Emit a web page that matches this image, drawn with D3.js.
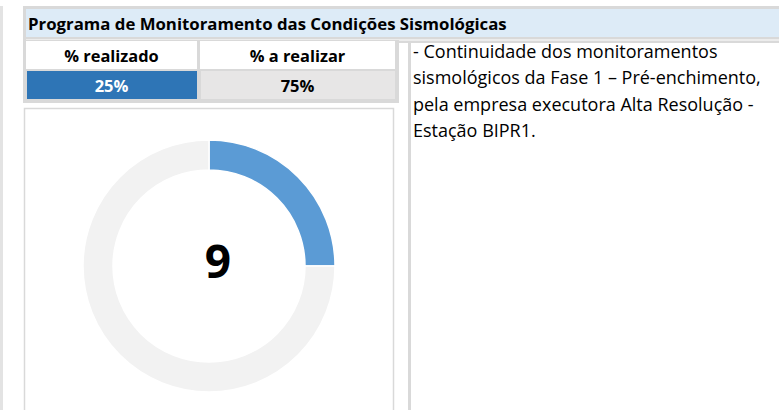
<!DOCTYPE html>
<html>
<head>
<meta charset="utf-8">
<script src="https://cdn.jsdelivr.net/npm/d3@7"></script>
<style>
  body { margin: 0; background: #fff; }
  text { font-family: "Open Sans", Lato, sans-serif; }
</style>
</head>
<body>
<div class="chart"></div>
<script>
// Painel - Programa de Monitoramento das Condições Sismológicas

var title = "Programa de Monitoramento das Condições Sismológicas";
var categories = ["% realizado", "% a realizar"];
var values = [25, 75];
var centerLabel = "9";
var description = [
    "- Continuidade dos monitoramentos",
    "sismológicos da Fase 1 – Pré-enchimento,",
    "pela empresa executora Alta Resolução -",
    "Estação BIPR1."
];

var svgWidth = 779;
var svgHeight = 410;
var gridGray = "#d9d9d9";

var svg = d3.select(".chart")
    .append("svg")
    .attr("width", svgWidth)
    .attr("height", svgHeight);

// left strip
svg.append("rect")
    .attr("x", 0).attr("y", 6)
    .attr("width", 3).attr("height", svgHeight)
    .attr("fill", "#e3e3e3");

// title band
svg.append("rect")
    .attr("x", 23).attr("y", 6)
    .attr("width", svgWidth - 23).attr("height", 37)
    .attr("fill", gridGray);
svg.append("rect")
    .attr("x", 26).attr("y", 9)
    .attr("width", svgWidth - 26).attr("height", 28)
    .attr("fill", "#ddebf7");
svg.append("rect")
    .attr("x", 26).attr("y", 39.5)
    .attr("width", svgWidth - 26).attr("height", 1)
    .attr("fill", "#fff");
svg.append("text")
    .attr("x", 28).attr("y", 30)
    .attr("font-size", "16.8px")
    .attr("font-weight", "bold")
    .attr("fill", "#000")
    .text(title);

// table of percentages
var xBand = d3.scaleOrdinal()
    .domain(categories)
    .range([[26, 197], [200, 395]]);

svg.append("rect")
    .attr("x", 23).attr("y", 40)
    .attr("width", 376).attr("height", 63)
    .attr("fill", gridGray);

var headerCells = svg.selectAll(".head")
    .data(categories)
    .enter()
    .append("g")
    .attr("class", "head");

headerCells.append("rect")
    .attr("x", function(d) { return xBand(d)[0]; })
    .attr("y", 41)
    .attr("width", function(d) { return xBand(d)[1] - xBand(d)[0]; })
    .attr("height", 28)
    .attr("fill", "#fff");

headerCells.append("text")
    .attr("x", function(d) { return (xBand(d)[0] + xBand(d)[1]) / 2; })
    .attr("y", 62)
    .attr("text-anchor", "middle")
    .attr("font-size", "16.4px")
    .attr("font-weight", "bold")
    .text(function(d) { return d; });

var valueCells = svg.selectAll(".val")
    .data(categories)
    .enter()
    .append("g")
    .attr("class", "val");

valueCells.append("rect")
    .attr("x", function(d) { return xBand(d)[0] + 1; })
    .attr("y", 71)
    .attr("width", function(d) { return xBand(d)[1] - xBand(d)[0] - 1; })
    .attr("height", 28)
    .attr("fill", function(d, i) { return i === 0 ? "#2e75b6" : "#e7e6e6"; });

valueCells.append("text")
    .attr("x", function(d) { return (xBand(d)[0] + xBand(d)[1]) / 2; })
    .attr("y", 92)
    .attr("text-anchor", "middle")
    .attr("font-size", "16.5px")
    .attr("font-weight", "bold")
    .attr("fill", function(d, i) { return i === 0 ? "#fff" : "#000"; })
    .text(function(d, i) { return values[i] + "%"; });

// donut box
svg.append("rect")
    .attr("x", 24.5).attr("y", 108.5)
    .attr("width", 369).attr("height", 320)
    .attr("fill", "#fff")
    .attr("stroke", gridGray)
    .attr("stroke-width", 1.5);

var pie = d3.pie().sort(null);
var arc = d3.arc().innerRadius(96).outerRadius(126);

var donut = svg.append("g")
    .attr("transform", "translate(209,266)");

donut.selectAll("path")
    .data(pie(values))
    .enter()
    .append("path")
    .attr("d", arc)
    .attr("fill", function(d, i) { return i === 0 ? "#5b9bd5" : "#f2f2f2"; })
    .attr("stroke", "#fff")
    .attr("stroke-width", 1.5);

donut.append("text")
    .attr("x", 9)
    .attr("y", 12)
    .attr("text-anchor", "middle")
    .attr("font-size", "46px")
    .attr("font-weight", "bold")
    .text(centerLabel);

// description box
svg.append("rect")
    .attr("x", 408).attr("y", 41)
    .attr("width", 3).attr("height", svgHeight)
    .attr("fill", gridGray);

svg.append("g")
    .selectAll("text")
    .data(description)
    .enter()
    .append("text")
    .attr("x", 413)
    .attr("y", function(d, i) { return 58 + i * 26.3; })
    .attr("font-size", "18px")
    .attr("fill", "#000")
    .text(function(d) { return d; });
</script>
</body>
</html>
